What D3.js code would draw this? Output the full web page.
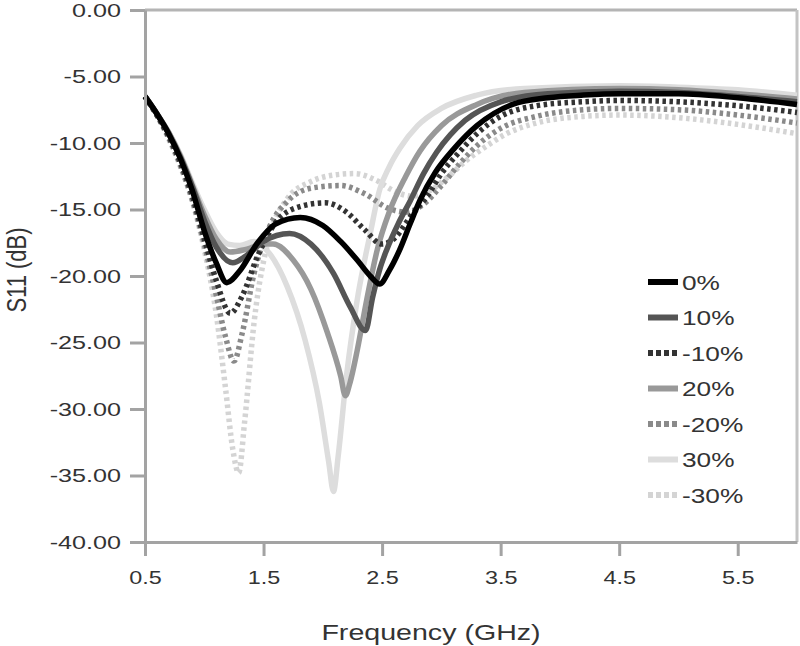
<!DOCTYPE html>
<html>
<head>
<meta charset="utf-8">
<script src="https://cdn.jsdelivr.net/npm/d3@7"></script>
<style>
  body { margin: 0; background: #fff; }
  text { font-family: "Liberation Sans", Arial, sans-serif; fill: #333; }
</style>
</head>
<body>
<div id="chart"></div>
<script>
// S11 curves, [frequency GHz, dB]
const s0 = [[0.5,-6.5],[0.6,-7.8],[0.7,-9.3],[0.8,-11.2],[0.9,-13.6],[1.0,-16.6],[1.1,-19.0],[1.19,-20.5],[1.3,-19.6],[1.45,-17.5],[1.6,-16.1],[1.81,-15.6],[2.0,-16.2],[2.15,-17.4],[2.29,-18.8],[2.4,-20.0],[2.48,-20.6],[2.56,-19.6],[2.65,-18.0],[2.74,-16.0],[2.82,-14.3],[2.95,-12.2],[3.1,-10.5],[3.3,-8.7],[3.6,-7.1],[3.9,-6.6],[4.2,-6.4],[4.5,-6.3],[5.0,-6.3],[5.5,-6.6],[6.0,-7.1]];
const sP10 = [[0.5,-6.5],[0.6,-7.8],[0.7,-9.3],[0.8,-11.1],[0.9,-13.3],[1.0,-15.8],[1.1,-17.8],[1.24,-19.0],[1.35,-18.5],[1.5,-17.4],[1.72,-16.8],[1.9,-17.6],[2.09,-19.8],[2.23,-22.3],[2.36,-24.1],[2.42,-21.6],[2.48,-19.5],[2.54,-18.0],[2.64,-16.0],[2.74,-14.3],[2.85,-12.3],[2.96,-10.7],[3.2,-8.3],[3.5,-6.9],[3.9,-6.3],[4.5,-6.1],[5.0,-6.2],[5.5,-6.5],[6.0,-6.9]];
const sM10 = [[0.5,-6.5],[0.6,-7.9],[0.7,-9.5],[0.8,-11.5],[0.9,-14.0],[1.0,-17.2],[1.1,-20.3],[1.22,-22.8],[1.32,-21.5],[1.45,-18.5],[1.6,-16.0],[1.8,-14.8],[2.02,-14.5],[2.2,-15.2],[2.35,-16.5],[2.5,-17.6],[2.6,-17.2],[2.75,-15.4],[2.88,-14.0],[3.0,-12.3],[3.15,-10.7],[3.3,-9.3],[3.5,-8.0],[3.8,-7.2],[4.2,-6.9],[4.5,-6.8],[5.0,-6.9],[5.5,-7.2],[6.0,-7.7]];
const sP20 = [[0.5,-6.5],[0.6,-7.8],[0.7,-9.2],[0.8,-11.0],[0.9,-13.2],[1.0,-15.4],[1.1,-17.2],[1.22,-18.2],[1.35,-18.0],[1.5,-17.6],[1.58,-17.6],[1.75,-18.8],[1.9,-21.0],[2.04,-24.3],[2.15,-27.5],[2.19,-29.0],[2.23,-28.0],[2.29,-25.6],[2.37,-21.8],[2.46,-18.0],[2.56,-15.2],[2.7,-12.5],[2.82,-10.6],[3.0,-8.7],[3.3,-7.1],[3.7,-6.2],[4.5,-5.9],[5.0,-6.0],[5.5,-6.3],[6.0,-6.7]];
const sM20 = [[0.5,-6.5],[0.6,-7.9],[0.7,-9.6],[0.8,-11.7],[0.9,-14.3],[1.0,-17.6],[1.1,-21.4],[1.18,-24.6],[1.25,-26.4],[1.32,-24.3],[1.42,-19.8],[1.55,-16.3],[1.7,-14.4],[1.9,-13.4],[2.15,-13.2],[2.35,-13.8],[2.55,-14.9],[2.7,-15.2],[2.85,-14.6],[3.0,-13.2],[3.15,-11.6],[3.3,-10.2],[3.5,-8.9],[3.8,-8.0],[4.2,-7.5],[4.5,-7.4],[5.0,-7.5],[5.5,-7.9],[6.0,-8.5]];
const sP30 = [[0.5,-6.5],[0.6,-7.8],[0.7,-9.2],[0.8,-10.9],[0.9,-13.0],[1.0,-15.0],[1.1,-16.7],[1.2,-17.6],[1.3,-17.7],[1.42,-17.4],[1.55,-18.3],[1.7,-20.8],[1.85,-24.8],[1.97,-29.5],[2.05,-34.0],[2.09,-36.2],[2.13,-33.5],[2.2,-27.5],[2.29,-21.8],[2.4,-16.8],[2.48,-13.5],[2.56,-11.8],[2.65,-10.4],[2.8,-8.7],[3.0,-7.4],[3.3,-6.4],[3.7,-5.9],[4.5,-5.7],[5.0,-5.8],[5.5,-6.0],[6.0,-6.4]];
const sM30 = [[0.5,-6.5],[0.6,-7.9],[0.7,-9.7],[0.8,-11.8],[0.9,-14.4],[1.0,-18.0],[1.1,-22.8],[1.18,-28.5],[1.24,-33.0],[1.29,-34.8],[1.34,-31.0],[1.42,-23.5],[1.55,-17.0],[1.7,-14.2],[1.9,-12.9],[2.1,-12.4],[2.27,-12.3],[2.45,-12.8],[2.6,-13.6],[2.75,-14.0],[2.9,-13.6],[3.05,-12.6],[3.2,-11.4],[3.37,-10.3],[3.55,-9.3],[3.8,-8.5],[4.2,-8.0],[4.5,-7.9],[5.0,-8.1],[5.5,-8.6],[6.0,-9.3]];

const seriesNames = ["0%", "10%", "-10%", "20%", "-20%", "30%", "-30%"];
const seriesData = [s0, sP10, sM10, sP20, sM20, sP30, sM30];
const seriesColors = ["#000000", "#555555", "#333333", "#999999", "#8a8a8a", "#dddddd", "#d4d4d4"];
const seriesDotted = [false, false, true, false, true, false, true];

const xTicks = [0.5, 1.5, 2.5, 3.5, 4.5, 5.5];
const yTicks = [0, -5, -10, -15, -20, -25, -30, -35, -40];

// taille
const width = 800, height = 646;
const plotLeft = 145, plotRight = 797, plotTop = 10, plotBottom = 542;
const axisColor = "#a3a3a3";

const svg = d3.select("#chart").append("svg")
    .attr("width", width)
    .attr("height", height);

const x = d3.scaleLinear().domain([0.5, 6.0]).range([plotLeft, plotRight]);
const y = d3.scaleLinear().domain([0, -40]).range([plotTop, plotBottom]);

// trait d'union simple au lieu du signe moins unicode
const fmt2 = d => d3.format(".2f")(d).replace("\u2212", "-");
const fmt1 = d => d3.format(".1f")(d).replace("\u2212", "-");

// cadre haut / droite
svg.append("line")
    .attr("x1", plotLeft).attr("x2", plotRight).attr("y1", plotTop).attr("y2", plotTop)
    .attr("stroke", "#b4b4b4").attr("stroke-width", 3);
svg.append("line")
    .attr("x1", plotRight).attr("x2", plotRight).attr("y1", plotTop).attr("y2", plotBottom)
    .attr("stroke", "#c4c4c4").attr("stroke-width", 3);

// courbes
const line = d3.line()
    .x(d => x(d[0]))
    .y(d => y(d[1]))
    .curve(d3.curveMonotoneX);

const order = d3.range(seriesNames.length).reverse();
svg.append("g").selectAll("path")
    .data(order)
    .enter()
    .append("path")
    .attr("d", i => line(seriesData[i]))
    .attr("fill", "none")
    .attr("stroke", i => seriesColors[i])
    .attr("stroke-width", 5.5)
    .attr("stroke-dasharray", i => seriesDotted[i] ? "3.5,3.5" : null)
    .attr("stroke-linejoin", "round");

// axes
const yAxis = svg.append("g")
    .attr("transform", `translate(${plotLeft},0)`)
    .call(d3.axisLeft(y).tickValues(yTicks).tickFormat(fmt2).tickSize(15).tickSizeOuter(0));

const xAxis = svg.append("g")
    .attr("transform", `translate(0,${plotBottom})`)
    .call(d3.axisBottom(x).tickValues(xTicks).tickFormat(fmt1).tickSize(14).tickSizeOuter(0));

[xAxis, yAxis].forEach(a => {
    a.selectAll("path, line").attr("stroke", axisColor).attr("stroke-width", 3);
});

const sxY = 1.4;
yAxis.selectAll("text")
    .attr("x", -24 / sxY)
    .attr("dy", "0.35em")
    .attr("transform", `scale(${sxY},1)`)
    .style("font-size", "18px")
    .style("font-family", "Liberation Sans, Arial, sans-serif")
    .attr("fill", "#333");

const sxX = 1.3;
xAxis.selectAll("text")
    .attr("y", 36)
    .attr("x", 0)
    .attr("dy", "0.35em")
    .attr("transform", `scale(${sxX},1)`)
    .style("font-size", "18px")
    .style("font-family", "Liberation Sans, Arial, sans-serif")
    .attr("fill", "#333");

// titres
svg.append("text")
    .attr("transform", `translate(431,632) scale(1.3,1)`)
    .attr("text-anchor", "middle")
    .attr("dy", "0.35em")
    .style("font-size", "22px")
    .text("Frequency (GHz)");

svg.append("text")
    .attr("transform", `translate(16,270) rotate(-90) scale(1,1.25)`)
    .attr("text-anchor", "middle")
    .attr("dy", "0.35em")
    .style("font-size", "22px")
    .text("S11 (dB)");

// légende
const legend = svg.append("g").attr("transform", "translate(648,282)");
const rowH = 35.5;

legend.selectAll("line")
    .data(seriesNames)
    .enter()
    .append("line")
    .attr("x1", 0).attr("x2", 30)
    .attr("y1", (d, i) => i * rowH).attr("y2", (d, i) => i * rowH)
    .attr("stroke", (d, i) => seriesColors[i])
    .attr("stroke-width", 6)
    .attr("stroke-dasharray", (d, i) => seriesDotted[i] ? "5,3" : null);

legend.selectAll("text")
    .data(seriesNames)
    .enter()
    .append("text")
    .attr("transform", (d, i) => `translate(34,${i * rowH}) scale(1.25,1)`)
    .attr("dy", "0.36em")
    .style("font-size", "21px")
    .text(d => d);
</script>
</body>
</html>
